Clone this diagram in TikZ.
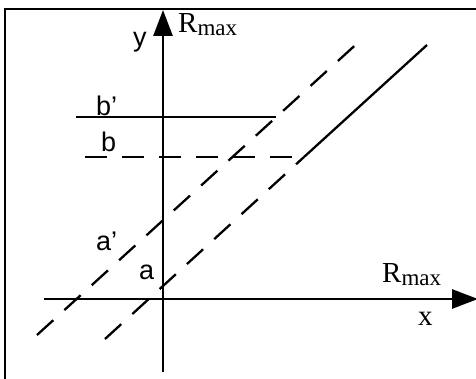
\documentclass[tikz,border=0pt]{standalone}
\usepackage{fontspec}
\setmainfont{Liberation Serif}
\newfontfamily\arialfont{Liberation Sans}
\usetikzlibrary{arrows.meta}
\begin{document}
\begin{tikzpicture}[x=1pt,y=-1pt,
 axisline/.style={line width=2.8pt,-{Triangle[length=26pt,width=19pt]}},
 solidline/.style={line width=2.3pt},
 dashline/.style={line width=2.3pt,dash pattern=on 22pt off 15pt},
 lbl/.style={font=\arialfont\fontsize{27}{27}\selectfont,anchor=base west,inner sep=0pt},
 rlbl/.style={font=\fontsize{29}{29}\selectfont,anchor=base west,inner sep=0pt}]
\useasboundingbox (0,0) rectangle (476,379);
\clip (0,0) rectangle (476,379);
\draw[line width=2.2pt] (5,9) rectangle (520,420);
% coordinates
\coordinate (yb) at (163,372);
\coordinate (yt) at (163,10);
\coordinate (xl) at (44,299);
\coordinate (xr) at (478,299);
\coordinate (ap1) at (37,335);
\coordinate (ap2) at (362,39);
\coordinate (bp0) at (76,117);
\coordinate (bp1) at (276,117);
\coordinate (b0) at (85,157);
\coordinate (bc) at (304,157);
\coordinate (a1) at (105,339);
\coordinate (a2) at (427,45);
% axes
\draw[axisline] (yb) -- (yt);
\draw[axisline] (xl) -- (xr);
% lines
\draw[dashline] (ap1) -- (ap2);
\draw[solidline] (bp0) -- (bp1);
\draw[dashline] (b0) -- (bc);
\draw[dashline] (a1) -- (bc);
\draw[solidline] (bc) -- (a2);
% labels
\node[lbl] (ylab) at (133,47) {y};
\node[rlbl] (rmy) at (178,33) {R{\fontsize{23}{23}\selectfont\raisebox{-3pt}{max}}};
\node[lbl] (bplab) at (96,116) {b’};
\node[lbl] (blab) at (101,152) {b};
\node[lbl] (aplab) at (96,251) {a’};
\node[lbl] (alab) at (139,279) {a};
\node[rlbl] (rmx) at (382,282) {R{\fontsize{23}{23}\selectfont\raisebox{-3pt}{max}}};
\node[rlbl] (xlab) at (418,325) {x};
\end{tikzpicture}
\end{document}
